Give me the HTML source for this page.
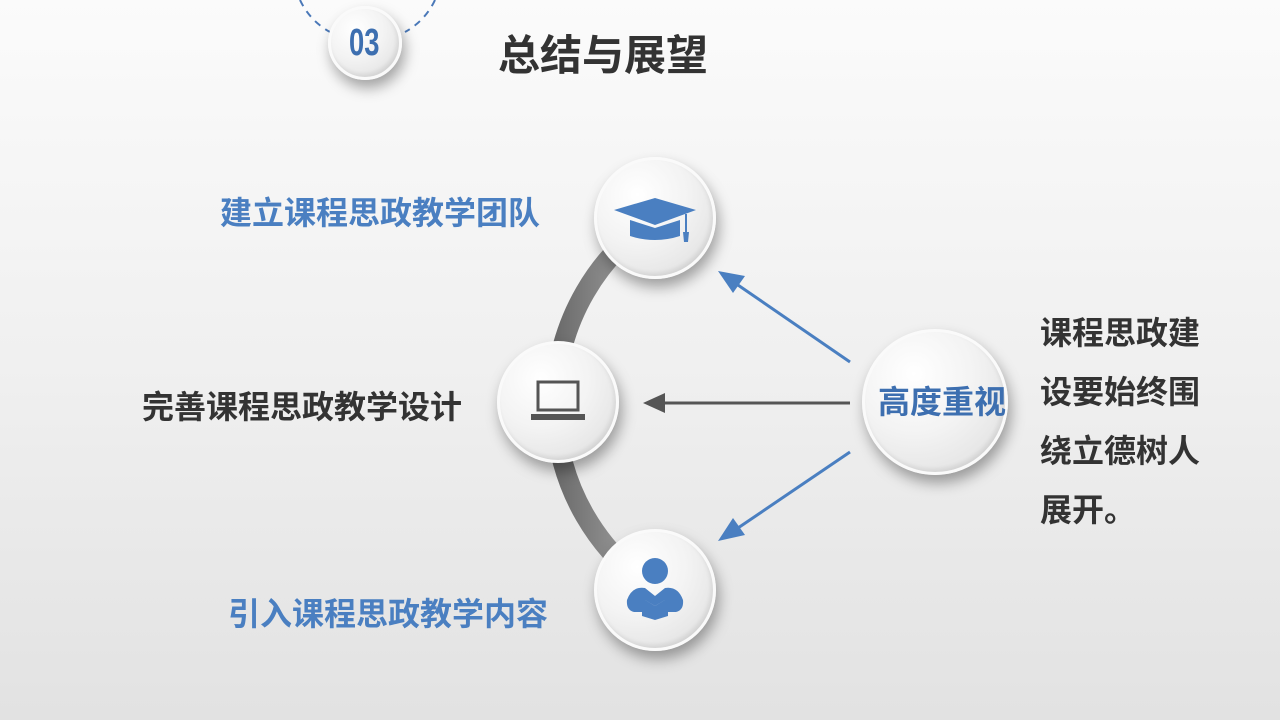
<!DOCTYPE html>
<html><head><meta charset="utf-8"><style>
body{margin:0;width:1280px;height:720px;overflow:hidden;background:linear-gradient(180deg,#fbfbfb 0%,#f0f0f0 50%,#e2e2e2 100%);font-family:"Liberation Sans","Noto Sans CJK SC",sans-serif;position:relative}
.t{position:absolute;font-weight:bold;white-space:nowrap;line-height:1}
.c{position:absolute;border-radius:50%;background:radial-gradient(circle at 35% 30%,#ffffff 0%,#f3f3f3 45%,#dcdcdc 100%);box-shadow:3px 8px 14px rgba(0,0,0,.35),inset -2px -3px 4px rgba(0,0,0,.08);border:3px solid #fafafa;box-sizing:border-box}
</style></head><body>
<svg width="1280" height="720" style="position:absolute;left:0;top:0">
<defs><linearGradient id="g" x1="0" y1="0" x2="1" y2="0"><stop offset="0" stop-color="#6a6a6a"/><stop offset="1" stop-color="#a8a8a8"/></linearGradient></defs>
<path d="M300 0 A70 70 0 0 0 330 32" fill="none" stroke="#4a78b8" stroke-width="2" stroke-dasharray="7,6"/>
<path d="M435 0 A70 70 0 0 1 405 32" fill="none" stroke="#4a78b8" stroke-width="2" stroke-dasharray="7,6"/>
<path d="M655 218 A223 223 0 0 0 655 590" fill="none" stroke="url(#g)" stroke-width="20"/>
<line x1="850" y1="362" x2="735" y2="283" stroke="#4a7fc1" stroke-width="3"/>
<polygon points="718,271 745,276 733,293" fill="#4a7fc1"/>
<line x1="850" y1="403" x2="665" y2="403" stroke="#555" stroke-width="3"/>
<polygon points="643,403 665,393 665,413" fill="#555"/>
<line x1="850" y1="452" x2="735" y2="530" stroke="#4a7fc1" stroke-width="3"/>
<polygon points="718,541 733,518 745,535" fill="#4a7fc1"/>
</svg>
<div class="c" style="left:328px;top:6px;width:74px;height:74px"></div>
<div class="t" style="left:349px;top:24px;font-size:38px;color:#3d6fb0;transform:scaleX(.72);transform-origin:left">03</div>
<div class="t" style="left:498px;top:35px;font-size:42px;color:#333">总结与展望</div>
<div class="c" style="left:594px;top:157px;width:122px;height:122px"></div>
<div class="c" style="left:497px;top:341px;width:122px;height:122px"></div>
<div class="c" style="left:594px;top:529px;width:122px;height:122px"></div>
<div class="c" style="left:862px;top:329px;width:146px;height:146px"></div>
<svg width="1280" height="720" style="position:absolute;left:0;top:0">
<polygon points="614,210 655,198 696,210 655,225" fill="#4a7fc1"/>
<path d="M630 220 L630 236 Q655 244 680 236 L680 220 L655 228 Z" fill="#4a7fc1"/>
<line x1="686" y1="214" x2="686" y2="232" stroke="#4a7fc1" stroke-width="2"/>
<polygon points="683,232 689,232 688,242 684,242" fill="#4a7fc1"/>
<rect x="538" y="382" width="40" height="28" fill="none" stroke="#555" stroke-width="3"/>
<rect x="531" y="414" width="54" height="6" fill="#555"/>
<circle cx="655" cy="571" r="13" fill="#4a7fc1"/>
<path d="M627 600 Q632 586 645 588 L655 596 L665 588 Q678 586 683 600 Q684 610 676 612 L665 612 L665 600 L655 606 L645 600 L645 612 L634 612 Q626 610 627 600 Z" fill="#4a7fc1"/>
<path d="M642 598 L655 606 L668 598 L668 616 L655 620 L642 616 Z" fill="#4a7fc1"/>
</svg>
<div class="t" style="left:878px;top:386px;font-size:32px;color:#3d6fb0">高度重视</div>
<div class="t" style="left:220px;top:197px;font-size:32px;color:#4a7fc1">建立课程思政教学团队</div>
<div class="t" style="left:142px;top:391px;font-size:32px;color:#333">完善课程思政教学设计</div>
<div class="t" style="left:228px;top:598px;font-size:32px;color:#4a7fc1">引入课程思政教学内容</div>
<div class="t" style="left:1040px;top:304px;font-size:32px;color:#333;line-height:59px">课程思政建<br>设要始终围<br>绕立德树人<br>展开。</div>
</body></html>
